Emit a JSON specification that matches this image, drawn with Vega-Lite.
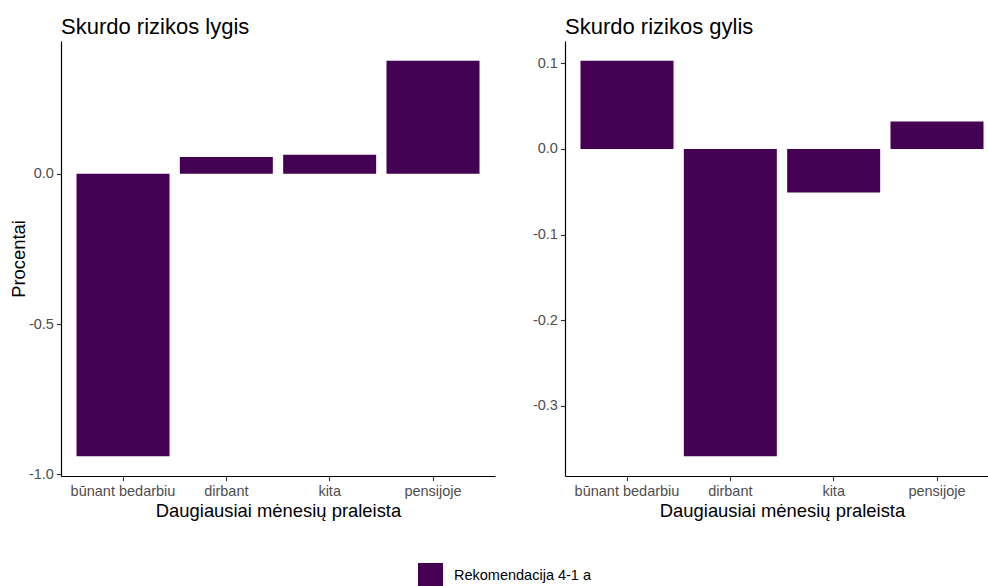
{
  "$schema": "https://vega.github.io/schema/vega-lite/v6.json",
  "background": "white",
  "padding": {"left": 9, "top": 16, "right": 0, "bottom": 0},
  "datasets": {
    "d": [
      {"panel": "lygis", "cat": "būnant bedarbiu", "value": -0.94, "rek": "Rekomendacija 4-1 a"},
      {"panel": "lygis", "cat": "dirbant", "value": 0.056, "rek": "Rekomendacija 4-1 a"},
      {"panel": "lygis", "cat": "kita", "value": 0.063, "rek": "Rekomendacija 4-1 a"},
      {"panel": "lygis", "cat": "pensijoje", "value": 0.376, "rek": "Rekomendacija 4-1 a"},
      {"panel": "gylis", "cat": "būnant bedarbiu", "value": 0.103, "rek": "Rekomendacija 4-1 a"},
      {"panel": "gylis", "cat": "dirbant", "value": -0.359, "rek": "Rekomendacija 4-1 a"},
      {"panel": "gylis", "cat": "kita", "value": -0.051, "rek": "Rekomendacija 4-1 a"},
      {"panel": "gylis", "cat": "pensijoje", "value": 0.032, "rek": "Rekomendacija 4-1 a"}
    ]
  },
  "data": {"name": "d"},
  "config": {
    "font": "Liberation Sans",
    "view": {"stroke": null},
    "axis": {
      "grid": false,
      "labelFont": "Liberation Sans",
      "labelColor": "#4d4d4d",
      "labelFontSize": 14.5,
      "tickColor": "#333333",
      "tickSize": 4.6,
      "tickWidth": 1.1,
      "domainColor": "#000000",
      "domainWidth": 1.2,
      "titleFont": "Liberation Sans",
      "titleFontSize": 18.4,
      "titleColor": "#000000",
      "titleFontWeight": "normal"
    },
    "title": {"font": "Liberation Sans", "fontSize": 22, "fontWeight": "normal", "anchor": "start", "frame": "group", "color": "#000000", "offset": 2},
    "legend": {"labelFont": "Liberation Sans", "labelFontSize": 14.5, "labelColor": "#000000"}
  },
  "bounds": "flush",
  "spacing": 70,
  "resolve": {"scale": {"x": "independent", "y": "independent", "color": "shared"}},
  "hconcat": [
    {
      "width": 434,
      "height": 435,
      "title": {"text": "Skurdo rizikos lygis"},
      "transform": [{"filter": "datum.panel === 'lygis'"}],
      "mark": {"type": "bar"},
      "encoding": {
        "x": {
          "field": "cat", "type": "nominal",
          "sort": ["būnant bedarbiu", "dirbant", "kita", "pensijoje"],
          "scale": {"paddingInner": 0.1, "paddingOuter": 0.15},
          "axis": {"title": "Daugiausiai mėnesių praleista", "labelAngle": 0, "labelPadding": 4, "titlePadding": 3}
        },
        "y": {
          "field": "value", "type": "quantitative",
          "scale": {"domain": [-1.0058, 0.4418], "nice": false, "zero": false},
          "axis": {"title": "Procentai", "values": [-1, -0.5, 0], "format": ".1f", "labelExpr": "replace(datum.label, '−', '-')", "labelPadding": 3, "titlePadding": 0}
        },
        "color": {
          "field": "rek", "type": "nominal",
          "scale": {"range": ["#440154"]},
          "legend": {"title": null, "orient": "none", "legendX": 357, "legendY": 522, "symbolType": "square", "symbolSize": 625, "symbolStrokeWidth": 0, "labelOffset": 11, "padding": 0}
        }
      }
    },
    {
      "width": 434,
      "height": 435,
      "title": {"text": "Skurdo rizikos gylis"},
      "transform": [{"filter": "datum.panel === 'gylis'"}],
      "mark": {"type": "bar"},
      "encoding": {
        "x": {
          "field": "cat", "type": "nominal",
          "sort": ["būnant bedarbiu", "dirbant", "kita", "pensijoje"],
          "scale": {"paddingInner": 0.1, "paddingOuter": 0.15},
          "axis": {"title": "Daugiausiai mėnesių praleista", "labelAngle": 0, "labelPadding": 4, "titlePadding": 3}
        },
        "y": {
          "field": "value", "type": "quantitative",
          "scale": {"domain": [-0.3821, 0.1261], "nice": false, "zero": false},
          "axis": {"title": null, "values": [-0.3, -0.2, -0.1, 0, 0.1], "format": ".1f", "labelExpr": "replace(datum.label, '−', '-')", "labelPadding": 3}
        },
        "color": {
          "field": "rek", "type": "nominal",
          "scale": {"range": ["#440154"]},
          "legend": {"title": null, "orient": "none", "legendX": 357, "legendY": 522, "symbolType": "square", "symbolSize": 625, "symbolStrokeWidth": 0, "labelOffset": 11, "padding": 0}
        }
      }
    }
  ]
}
